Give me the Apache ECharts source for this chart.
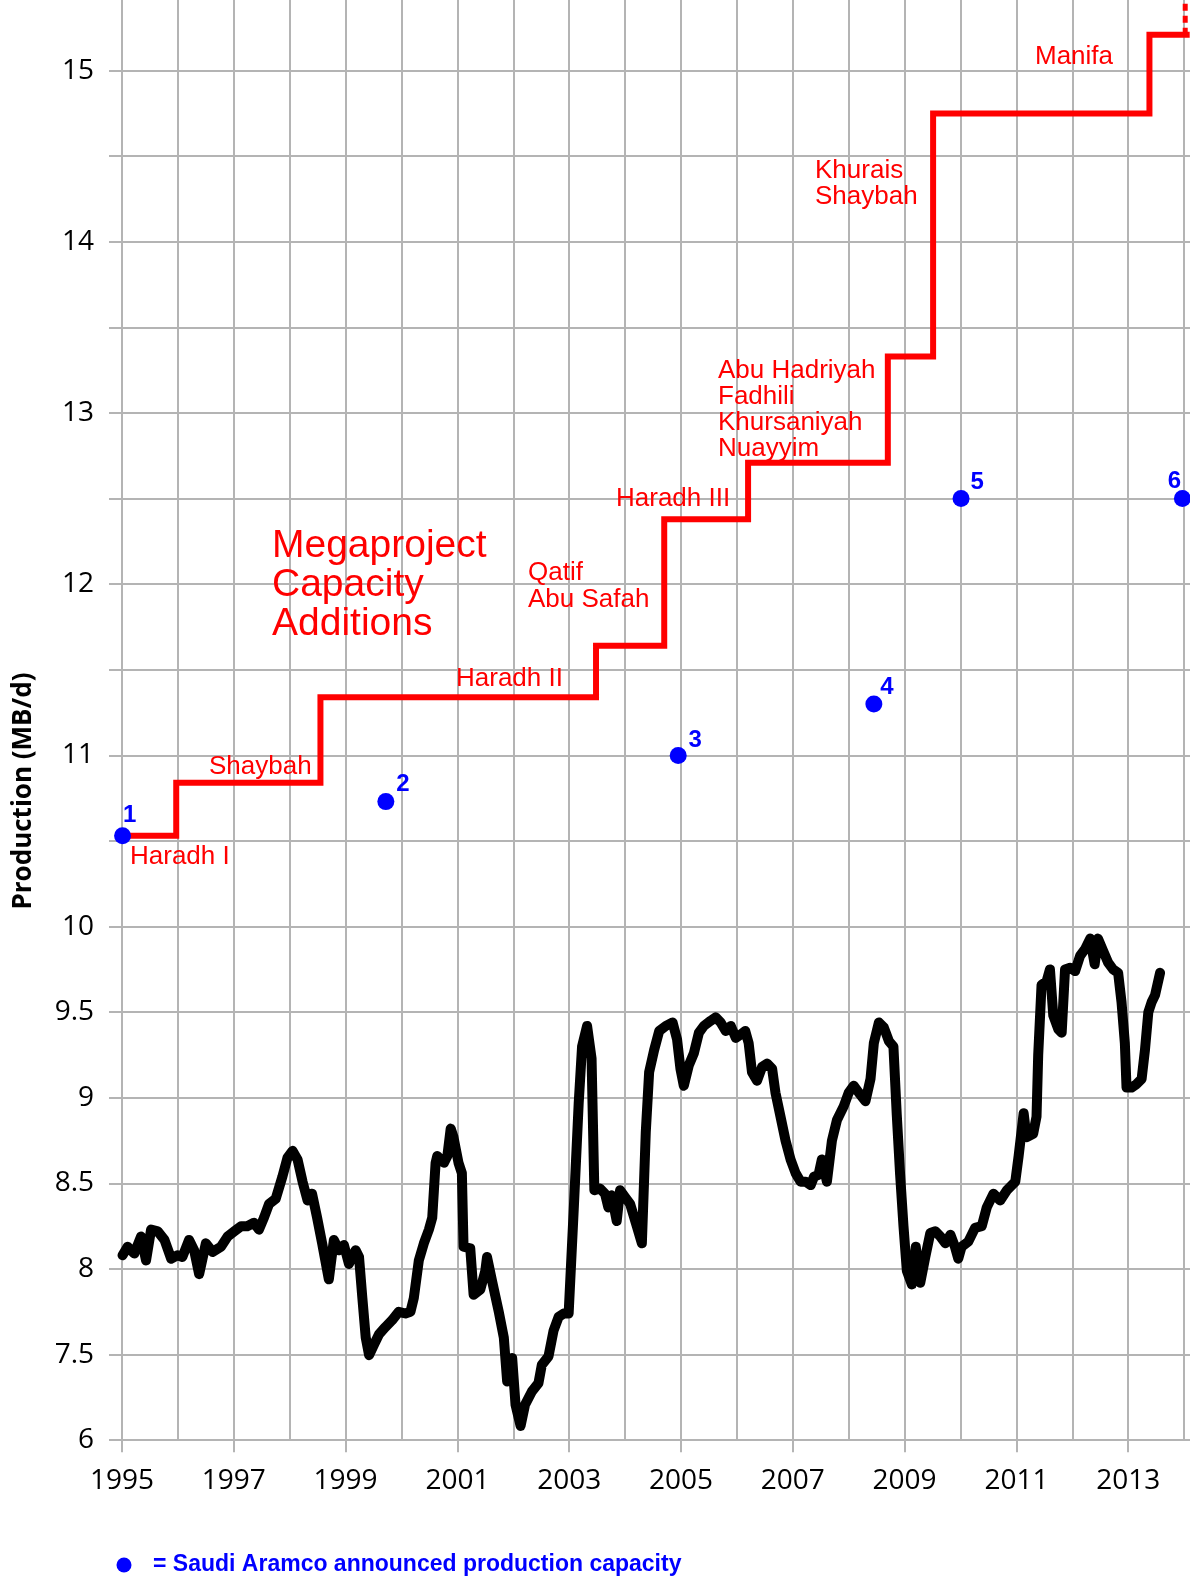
<!DOCTYPE html>
<html><head><meta charset="utf-8">
<script src="https://cdn.jsdelivr.net/npm/echarts/dist/echarts.min.js"></script>
<style>html,body{margin:0;padding:0;background:#fff;overflow:hidden;width:1190px;height:1581px}
#c{position:absolute;left:0;top:-15px;width:1243px;height:1596px}</style>
</head><body><div id="c"></div>
<script>
// ---------- data ----------
const prodYears = [1995.01,1995.10,1995.22,1995.34,1995.43,1995.52,1995.64,1995.76,1995.88,1995.99,
1996.08,1996.20,1996.29,1996.38,1996.50,1996.62,1996.77,1996.89,1997.01,1997.13,1997.24,1997.36,1997.45,
1997.54,1997.63,1997.75,1997.87,1997.96,1998.05,1998.14,1998.23,1998.32,1998.40,1998.49,1998.58,1998.70,
1998.79,1998.88,1998.97,1999.06,1999.18,1999.24,1999.30,1999.36,1999.42,1999.51,1999.60,1999.71,1999.83,
1999.95,2000.07,2000.16,2000.22,2000.31,2000.40,2000.49,2000.55,2000.61,2000.64,2000.76,2000.82,2000.88,
2000.93,2001.02,2001.08,2001.11,2001.23,2001.29,2001.41,2001.50,2001.53,2001.62,2001.74,2001.83,2001.89,
2001.98,2002.04,2002.13,2002.21,2002.33,2002.45,2002.51,2002.63,2002.72,2002.81,2002.90,2002.99,2003.08,
2003.17,2003.23,2003.32,2003.40,2003.45,2003.55,2003.64,2003.70,2003.76,2003.85,2003.91,2004.00,2004.09,
2004.21,2004.30,2004.37,2004.43,2004.52,2004.61,2004.73,2004.85,2004.93,2004.99,2005.05,2005.14,2005.23,
2005.32,2005.41,2005.53,2005.62,2005.71,2005.80,2005.89,2005.98,2006.07,2006.15,2006.21,2006.27,2006.36,
2006.45,2006.54,2006.63,2006.69,2006.78,2006.87,2006.96,2007.05,2007.14,2007.23,2007.32,2007.38,2007.46,
2007.52,2007.61,2007.70,2007.79,2007.91,2008.00,2008.09,2008.18,2008.30,2008.39,2008.45,2008.54,2008.63,
2008.72,2008.80,2008.86,2008.92,2008.98,2009.04,2009.13,2009.20,2009.28,2009.37,2009.46,2009.55,2009.64,
2009.73,2009.82,2009.90,2009.96,2010.02,2010.14,2010.26,2010.38,2010.47,2010.59,2010.71,2010.83,2010.98,
2011.04,2011.13,2011.18,2011.30,2011.36,2011.39,2011.45,2011.54,2011.60,2011.66,2011.75,2011.81,2011.87,
2011.96,2012.05,2012.14,2012.23,2012.32,2012.40,2012.46,2012.55,2012.64,2012.73,2012.82,2012.88,2012.94,
2012.97,2013.06,2013.15,2013.24,2013.30,2013.36,2013.42,2013.48,2013.57];
const prodValues = [8.08,8.13,8.09,8.19,8.05,8.23,8.22,8.17,8.06,8.08,
8.07,8.17,8.11,7.97,8.15,8.10,8.13,8.19,8.22,8.25,8.25,8.27,8.23,
8.30,8.38,8.41,8.54,8.65,8.69,8.64,8.51,8.40,8.44,8.30,8.15,7.94,
8.17,8.11,8.14,8.03,8.11,8.07,7.83,7.60,7.49,7.56,7.62,7.66,7.70,
7.75,7.74,7.75,7.83,8.05,8.15,8.23,8.30,8.62,8.66,8.62,8.66,8.82,
8.77,8.62,8.56,8.13,8.12,7.85,7.88,7.99,8.07,7.93,7.75,7.60,7.03,
7.44,6.62,6.25,6.62,6.85,7.00,7.32,7.47,7.64,7.72,7.74,7.74,8.34,
8.97,9.30,9.42,9.23,8.46,8.47,8.44,8.36,8.43,8.28,8.46,8.42,8.38,
8.25,8.15,8.80,9.15,9.28,9.39,9.42,9.44,9.34,9.17,9.07,9.19,9.26,
9.38,9.42,9.45,9.47,9.44,9.39,9.42,9.35,9.37,9.39,9.32,9.15,9.10,
9.18,9.20,9.17,9.03,8.89,8.75,8.64,8.56,8.51,8.51,8.49,8.54,8.55,
8.64,8.51,8.75,8.87,8.95,9.03,9.07,9.03,8.98,9.11,9.32,9.44,9.41,
9.33,9.30,8.90,8.55,8.25,7.99,7.91,8.13,7.92,8.07,8.21,8.22,8.19,
8.15,8.20,8.13,8.06,8.13,8.16,8.24,8.25,8.36,8.44,8.40,8.46,8.51,
8.66,8.91,8.77,8.79,8.89,9.25,9.66,9.68,9.75,9.48,9.40,9.38,9.75,
9.76,9.74,9.83,9.87,9.93,9.78,9.93,9.86,9.79,9.75,9.73,9.56,9.32,
9.06,9.06,9.08,9.11,9.28,9.50,9.56,9.60,9.73];

// capacity step line (level starting at each year)
const capYears  = [1995.00, 1995.97, 1998.55, 2003.48, 2004.70, 2006.20, 2008.70, 2009.51, 2013.38, 2014.10];
const capValues = [10.53, 10.84, 11.34, 11.64, 12.38, 12.71, 13.33, 14.75, 15.21, 15.21];
const capFutureYears  = [2014.02, 2014.02];
const capFutureValues = [15.21, 15.70];

const projectLabels = ['Haradh I', 'Shaybah', 'Haradh II', 'Qatif\nAbu Safah', 'Haradh III',
  'Abu Hadriyah\nFadhili\nKhursaniyah\nNuayyim', 'Khurais\nShaybah', 'Manifa'];
const titleText = 'Megaproject\nCapacity\nAdditions';

// Saudi Aramco announced capacity points
const announceYears  = [1995.01, 1999.72, 2004.95, 2008.45, 2010.01, 2013.97];
const announceValues = [10.53, 10.73, 11.00, 11.30, 12.50, 12.50];
const announceLabels = ['1', '2', '3', '4', '5', '6'];

// y-axis: below 7.5 the axis is compressed (6 -> 7.5 takes one 0.5 step)
const yTickDisplay = [7, 7.5, 8, 8.5, 9, 9.5, 10, 11, 12, 13, 14, 15];
const yTickText    = ['6', '7.5', '8', '8.5', '9', '9.5', '10', '11', '12', '13', '14', '15'];
const xStartYear = 1995;
const yAxisName = 'Production (MB/d)';
const legendText = '= Saudi Aramco announced production capacity';

// ---------- helpers / layout ----------
const BREAK = 7.5, COMPRESS = 3;
function toDisp(v) { return v >= BREAK ? v : BREAK - (BREAK - v) / COMPRESS; }
function pts(xs, ys) { return xs.map((x, i) => [x - xStartYear, toDisp(ys[i])]); }

const OFFY = 15; // chart container is shifted up by this amount
const RED = '#ff0000', BLUE = '#0000ff';
const GRIDC = '#b4b4b4';
const AX_FONT = '"Open Sans", "Noto Sans", sans-serif';
const AR_FONT = '"Liberation Sans", Arial, sans-serif';
const DOT = 17;
// label centre offsets from each dot centre (px)
const numberOffsets = [[7, -20], [17, -17], [17, -15], [13, -17], [16, -16], [-8, -17]];

const chart = echarts.init(document.getElementById('c'), null, { renderer: 'canvas' });

function txt(text, x, yTop, size, lh) {
  return {
    type: 'text', x: x, y: yTop + OFFY, silent: true, z: 50,
    style: {
      text: text, fill: RED, font: size + 'px ' + AR_FONT,
      lineHeight: lh, align: 'left', verticalAlign: 'top'
    }
  };
}
function tb(baseline, size, lh) { return baseline - 0.35 * size - lh / 2; }

const SMALL = 26;
const labelPos = [
  [130, tb(862.7, SMALL, 26) + 3],
  [209, tb(773.3, SMALL, 26) + 3],
  [456, tb(685, SMALL, 26) + 3],
  [528, tb(579.3, SMALL, 26.7) + 3],
  [616, tb(505, SMALL, 26) + 3],
  [718, tb(376.7, SMALL, 26.1) + 3],
  [815, tb(176.7, SMALL, 26.6) + 3],
  [1035, tb(63.3, SMALL, 26) + 3]
];
const lineHeights = [26, 26, 26, 26.7, 26, 26.1, 26.6, 26];

const graphics = projectLabels.map((t, i) => txt(t, labelPos[i][0], labelPos[i][1], SMALL, lineHeights[i]));
graphics.push(txt(titleText, 272, tb(555, 39, 39) + 5, 39, 39));
graphics.push({
  type: 'text', x: 24, y: 791 + OFFY, rotation: Math.PI / 2, silent: true,
  style: { text: yAxisName, fill: '#000', font: 'bold 26px ' + AX_FONT, align: 'center', verticalAlign: 'middle' }
});
graphics.push({ type: 'circle', shape: { cx: 124, cy: 1565 + OFFY, r: 7.5 }, style: { fill: BLUE }, silent: true });
graphics.push({
  type: 'text', x: 153, y: 1565 + OFFY, silent: true,
  style: { text: legendText, fill: BLUE, font: 'bold 23px ' + AR_FONT, align: 'left', verticalAlign: 'middle' }
});

const scatterData = announceYears.map((x, i) => ({
  value: [x - xStartYear, toDisp(announceValues[i])],
  name: announceLabels[i],
  label: { position: [DOT / 2 + numberOffsets[i][0], DOT / 2 + numberOffsets[i][1]] }
}));

const option = {
  animation: false,
  backgroundColor: '#ffffff',
  grid: { left: 122, right: 0.4, top: 0, bottom: 140.8, containLabel: false },
  xAxis: {
    type: 'value', min: 0, max: 20, interval: 2,
    axisLine: { show: true, lineStyle: { color: GRIDC, width: 2 } },
    axisTick: { show: true, length: 12, lineStyle: { color: GRIDC, width: 2 } },
    axisLabel: {
      margin: 27, color: '#000', fontSize: 28, fontFamily: AX_FONT,
      formatter: v => (v <= 18 ? String(v + xStartYear) : '')
    },
    splitLine: { show: true, lineStyle: { color: GRIDC, width: 2 } },
    minorTick: { show: false, splitNumber: 2 },
    minorSplitLine: { show: true, lineStyle: { color: GRIDC, width: 2 } }
  },
  yAxis: {
    type: 'value', min: 7, max: 15.5, interval: 0.5,
    axisLine: { show: true, lineStyle: { color: GRIDC, width: 2 } },
    axisTick: { show: true, length: 13, lineStyle: { color: GRIDC, width: 2 } },
    axisLabel: {
      margin: 28, color: '#000', fontSize: 28, fontFamily: AX_FONT,
      formatter: v => {
        const i = yTickDisplay.findIndex(t => Math.abs(t - v) < 1e-6);
        return i >= 0 ? yTickText[i] : '';
      }
    },
    splitLine: { show: true, lineStyle: { color: GRIDC, width: 2 } }
  },
  series: [
    {
      type: 'line', name: 'production', data: pts(prodYears, prodValues),
      showSymbol: false, smooth: false, z: 3,
      lineStyle: { color: '#000', width: 10, join: 'round', cap: 'round' }
    },
    {
      type: 'line', name: 'capacity', data: pts(capYears, capValues), step: 'end',
      showSymbol: false, z: 4,
      lineStyle: { color: RED, width: 6, join: 'miter', cap: 'butt' }
    },
    {
      type: 'line', name: 'future', data: pts(capFutureYears, capFutureValues),
      showSymbol: false, z: 4,
      lineStyle: { color: RED, width: 5, type: [7, 5] }
    },
    {
      type: 'scatter', name: 'announced', data: scatterData, symbolSize: DOT, z: 6,
      itemStyle: { color: BLUE, opacity: 1 },
      label: {
        show: true, formatter: p => p.name, align: 'center', verticalAlign: 'middle',
        color: BLUE, fontWeight: 'bold', fontSize: 24, fontFamily: AR_FONT
      }
    }
  ],
  graphic: graphics
};
chart.setOption(option);
</script>
</body></html>
